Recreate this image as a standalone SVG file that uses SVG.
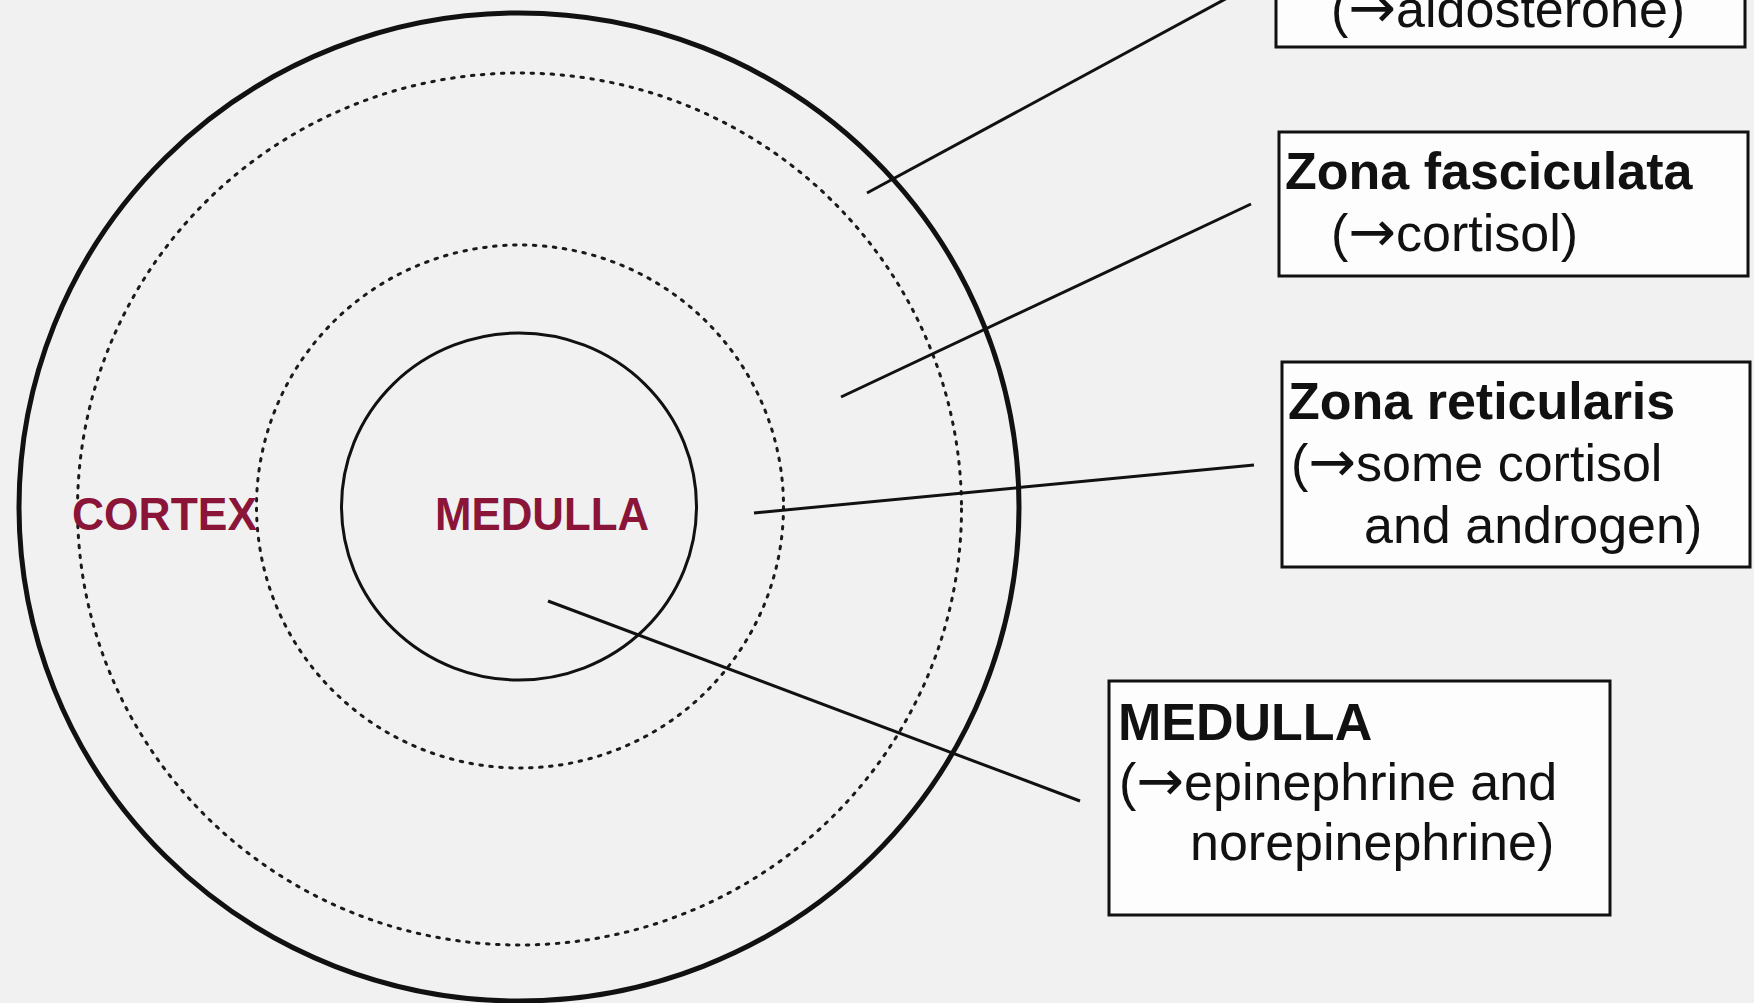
<svg xmlns="http://www.w3.org/2000/svg" width="1754" height="1003" viewBox="0 0 1754 1003">
<style>
.bg{fill:#f1f1f1}
.box{fill:#fdfdfd;stroke:#111;stroke-width:3}
.t{font-family:"Liberation Sans",Arial,sans-serif;font-size:52px;fill:#111}
.b{font-weight:bold}
.ar{font-family:"DejaVu Sans",sans-serif;font-size:57px}
.lbl{font-family:"Liberation Sans",Arial,sans-serif;font-size:46px;font-weight:bold;fill:#8a1538}
.solid{fill:none;stroke:#111}
.dot{fill:none;stroke:#1a1a1a;stroke-width:3;stroke-dasharray:2.5 7.5;stroke-linecap:round}
.conn{stroke:#111;stroke-width:3;fill:none}
</style>
<rect class="bg" x="0" y="0" width="1754" height="1003"/>
<g id="gland">
<ellipse cx="519" cy="507" rx="500" ry="494" class="solid" stroke-width="5" fill="#f4f4f4"/>
<ellipse cx="519.5" cy="509" rx="442" ry="436" class="dot"/>
<ellipse cx="520" cy="506.5" rx="263.5" ry="261.5" class="dot"/>
<ellipse cx="519" cy="506.5" rx="177.5" ry="173.5" class="solid" stroke-width="3"/>
</g>
<g id="cortex-label"><text class="lbl" x="72" y="530" textLength="185" lengthAdjust="spacingAndGlyphs">CORTEX</text></g>
<g id="medulla-label"><text class="lbl" x="435" y="530" textLength="214" lengthAdjust="spacingAndGlyphs">MEDULLA</text></g>
<g id="connectors">
<line class="conn" x1="867" y1="193" x2="1242" y2="-10"/>
<line class="conn" x1="841" y1="397" x2="1251" y2="204"/>
<line class="conn" x1="754" y1="513" x2="1254" y2="465"/>
<line class="conn" x1="548" y1="601" x2="1080" y2="801"/>
</g>
<g id="box-glomerulosa">
<rect class="box" x="1276" y="-100" width="469" height="147"/>
<text class="t" x="1331" y="27">(<tspan class="ar">→</tspan>aldosterone)</text>
</g>
<g id="box-fasciculata">
<rect class="box" x="1279" y="132" width="469" height="144"/>
<text class="t b" x="1285" y="189">Zona fasciculata</text>
<text class="t" x="1331" y="251">(<tspan class="ar">→</tspan>cortisol)</text>
</g>
<g id="box-reticularis">
<rect class="box" x="1282" y="362" width="468" height="205"/>
<text class="t b" x="1288" y="419">Zona reticularis</text>
<text class="t" x="1291" y="481">(<tspan class="ar">→</tspan>some cortisol</text>
<text class="t" x="1364" y="543">and androgen)</text>
</g>
<g id="box-medulla">
<rect class="box" x="1109" y="681" width="501" height="234"/>
<text class="t b" x="1118" y="740">MEDULLA</text>
<text class="t" x="1119" y="800">(<tspan class="ar">→</tspan>epinephrine and</text>
<text class="t" x="1190" y="860">norepinephrine)</text>
</g>
</svg>
